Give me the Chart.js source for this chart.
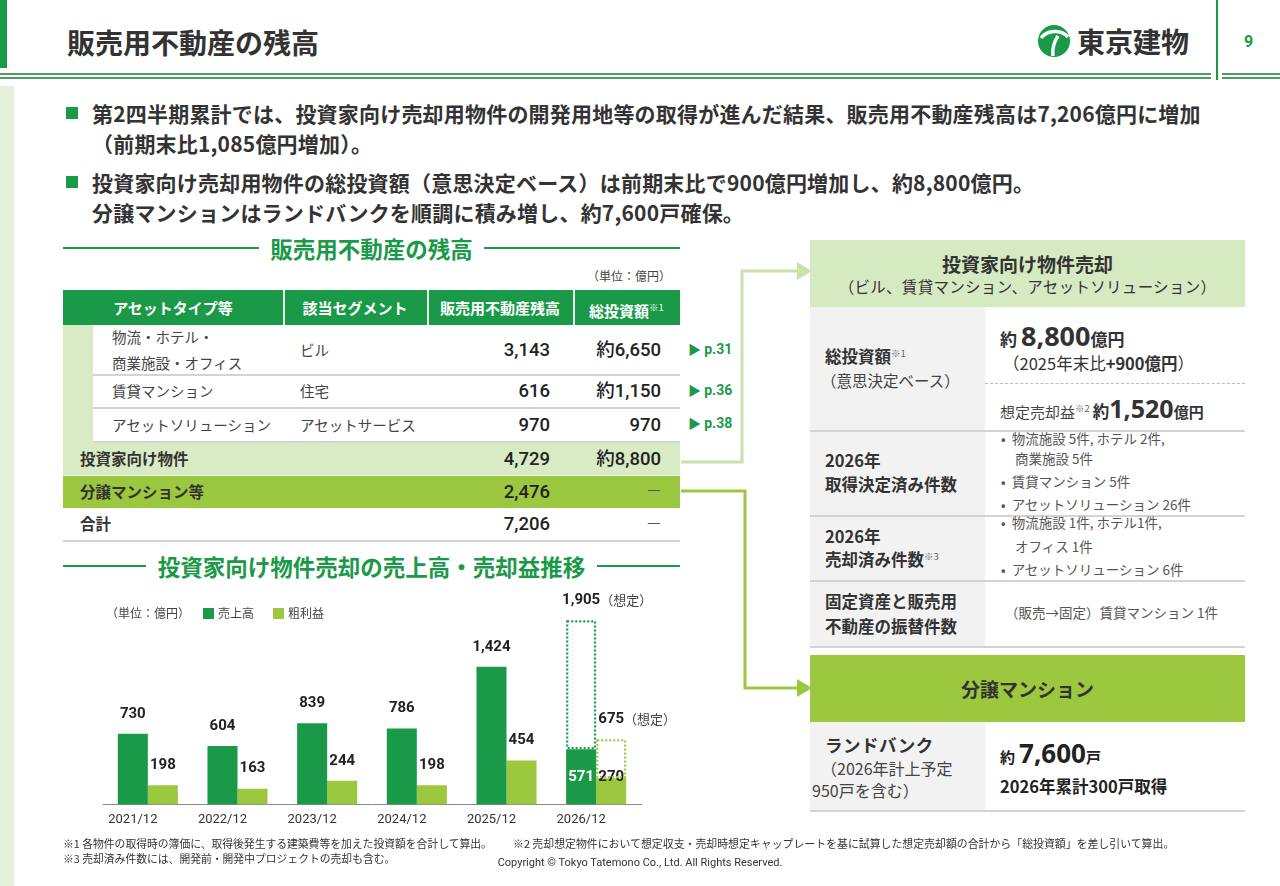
<!DOCTYPE html>
<html lang="ja"><head><meta charset="utf-8">
<script src="https://cdn.jsdelivr.net/npm/chart.js@4.4.1/dist/chart.umd.min.js"></script>
<style>
html,body{margin:0;padding:0;background:#fff;}
body{width:1280px;height:886px;position:relative;overflow:hidden;font-family:"Noto Sans CJK JP","Noto Sans",sans-serif;color:#333;}
.a{position:absolute;}
.t{position:absolute;white-space:nowrap;line-height:1;}
.b{font-weight:700;}
.n{font-family:Roboto,"Noto Sans CJK JP",sans-serif;}
.g{color:#1a9a48;}
.hc{position:absolute;top:290px;height:35px;line-height:35px;color:#fff;font-weight:700;font-size:15px;text-align:center;white-space:nowrap;}
.sup{font-size:9.5px;vertical-align:6px;font-weight:400;color:#666;}
.r{position:absolute;white-space:nowrap;line-height:1;text-align:right;font-family:Roboto,"Noto Sans CJK JP",sans-serif;font-size:18.5px;font-weight:500;color:#222;}
.bl{font-size:13.5px;color:#555;}
.hline{position:absolute;height:2px;background:#d3d3d3;}
</style></head><body>

<svg class="a" style="left:0;top:0" width="1280" height="886">
  <polyline points="681,462 742,462 742,271 800,271" fill="none" stroke="#c9e2ab" stroke-width="3"/>
  <polygon points="797,262 812,271 797,280" fill="#c9e2ab"/>
  <polyline points="681,491 745,491 745,688 800,688" fill="none" stroke="#9bc83f" stroke-width="3"/>
  <polygon points="797,679 812,688 797,697" fill="#9bc83f"/>
  <circle cx="1054" cy="41" r="16" fill="#1a9a48"/>
  <path d="M1041,38 C1047,30 1061,29 1068,37" stroke="#fff" stroke-width="3.5" fill="none"/>
  <path d="M1058,36 C1054,42 1052,49 1053,56" stroke="#fff" stroke-width="3.5" fill="none"/>
</svg>

<!-- header -->
<div class="a" style="left:0;top:0;width:7px;height:68px;background:#1a9a48"></div>
<div class="t b" style="left:67px;top:28px;font-size:28px;color:#333">販売用不動産の残高</div>
<div class="t b" style="left:1077px;top:27px;font-size:28px;color:#333">東京建物</div>
<div class="a" style="left:1216px;top:0;width:1.5px;height:80px;background:#1a9a48"></div>
<div class="t b n g" style="left:1244px;top:34px;font-size:16px">9</div>
<div class="a" style="left:0;top:73px;width:1211px;height:2px;background:#4a9e62"></div>
<div class="a" style="left:0;top:77px;width:1211px;height:2px;background:#4a9e62"></div>
<div class="a" style="left:1222px;top:73px;width:58px;height:2px;background:#4a9e62"></div>
<div class="a" style="left:1222px;top:77px;width:58px;height:2px;background:#4a9e62"></div>
<div class="a" style="left:0;top:86px;width:14px;height:800px;background:#e4f0d8"></div>

<!-- bullets -->
<div class="a" style="left:66px;top:107px;width:12px;height:12px;background:#1a9a48"></div>
<div class="a" style="left:66px;top:176px;width:12px;height:12px;background:#1a9a48"></div>
<div class="t b" style="left:92px;top:102.5px;font-size:21px;letter-spacing:0.2px">第2四半期累計では、投資家向け売却用物件の開発用地等の取得が進んだ結果、販売用不動産残高は7,206億円に増加</div>
<div class="t b" style="left:92px;top:132.5px;font-size:21px;letter-spacing:0.2px">（前期末比1,085億円増加）。</div>
<div class="t b" style="left:92px;top:171.5px;font-size:21px;letter-spacing:0.2px">投資家向け売却用物件の総投資額（意思決定ベース）は前期末比で900億円増加し、約8,800億円。</div>
<div class="t b" style="left:92px;top:201.5px;font-size:21px;letter-spacing:0.2px">分譲マンションはランドバンクを順調に積み増し、約7,600戸確保。</div>

<!-- section heading 1 -->
<div class="a" style="left:63px;top:236px;width:617px;height:24px;display:flex;align-items:center">
  <div style="flex:1;height:2px;background:#1a9a48"></div>
  <div class="b g" style="font-size:22.5px;line-height:24px;margin:0 11px;white-space:nowrap">販売用不動産の残高</div>
  <div style="flex:1;height:2px;background:#1a9a48"></div>
</div>
<div class="t" style="left:587px;top:270px;font-size:12px;color:#444">（単位：億円）</div>

<!-- table -->
<div class="a" style="left:63px;top:290px;width:617px;height:35px;background:#1a9a48"></div>
<div class="a" style="left:283px;top:290px;width:1.5px;height:35px;background:#e8f3ea"></div>
<div class="a" style="left:427px;top:290px;width:1.5px;height:35px;background:#e8f3ea"></div>
<div class="a" style="left:573px;top:290px;width:1.5px;height:35px;background:#e8f3ea"></div>
<div class="hc" style="left:63px;width:220px">アセットタイプ等</div>
<div class="hc" style="left:283px;width:144px">該当セグメント</div>
<div class="hc" style="left:427px;width:146px">販売用不動産残高</div>
<div class="hc" style="left:573px;width:107px">総投資額<span class="sup" style="color:#fff">※1</span></div>

<div class="a" style="left:63px;top:325px;width:30px;height:118px;background:#d8ebc4"></div>
<div class="hline" style="left:93px;top:374px;width:587px"></div>
<div class="hline" style="left:93px;top:407px;width:587px"></div>
<div class="hline" style="left:93px;top:441px;width:587px"></div>
<div class="a" style="left:63px;top:443px;width:617px;height:32px;background:#d8ebc4"></div>
<div class="a" style="left:63px;top:475px;width:617px;height:1px;background:#eef5e6"></div>
<div class="a" style="left:63px;top:476px;width:617px;height:32px;background:#9bc83f"></div>
<div class="hline" style="left:63px;top:540px;width:617px"></div>

<div class="t" style="left:112px;top:330px;font-size:14.5px;color:#444">物流・ホテル・</div>
<div class="t" style="left:112px;top:356px;font-size:14.5px;color:#444">商業施設・オフィス</div>
<div class="t" style="left:300px;top:343px;font-size:14.5px;color:#444">ビル</div>
<div class="r" style="right:730px;top:341px">3,143</div>
<div class="r" style="right:619px;top:341px">約6,650</div>

<div class="t" style="left:112px;top:384px;font-size:14.5px;color:#444">賃貸マンション</div>
<div class="t" style="left:300px;top:384px;font-size:14.5px;color:#444">住宅</div>
<div class="r" style="right:730px;top:382px">616</div>
<div class="r" style="right:619px;top:382px">約1,150</div>

<div class="t" style="left:112px;top:418px;font-size:14.5px;color:#444">アセットソリューション</div>
<div class="t" style="left:300px;top:418px;font-size:14.5px;color:#444">アセットサービス</div>
<div class="r" style="right:730px;top:416px">970</div>
<div class="r" style="right:619px;top:416px">970</div>

<div class="t b" style="left:80px;top:451px;font-size:15.5px;color:#333">投資家向け物件</div>
<div class="r" style="right:730px;top:450px">4,729</div>
<div class="r" style="right:619px;top:450px">約8,800</div>

<div class="t b" style="left:80px;top:483.5px;font-size:15.5px;color:#333">分譲マンション等</div>
<div class="r" style="right:730px;top:482.5px">2,476</div>
<div class="r" style="right:619px;top:482px;font-weight:300;color:#555">—</div>

<div class="t b" style="left:80px;top:516px;font-size:15.5px;color:#333">合計</div>
<div class="r" style="right:730px;top:515px">7,206</div>
<div class="r" style="right:619px;top:515px;font-weight:300;color:#555">—</div>

<div class="t b g" style="left:688px;top:341px;font-size:14px"><span style="font-size:13px">▶</span> <span class="n">p.31</span></div>
<div class="t b g" style="left:688px;top:382px;font-size:14px"><span style="font-size:13px">▶</span> <span class="n">p.36</span></div>
<div class="t b g" style="left:688px;top:415px;font-size:14px"><span style="font-size:13px">▶</span> <span class="n">p.38</span></div>

<!-- section heading 2 -->
<div class="a" style="left:63px;top:554px;width:617px;height:24px;display:flex;align-items:center">
  <div style="flex:1;height:2px;background:#1a9a48"></div>
  <div class="b g" style="font-size:22.5px;line-height:24px;margin:0 12px;white-space:nowrap">投資家向け物件売却の売上高・売却益推移</div>
  <div style="flex:1;height:2px;background:#1a9a48"></div>
</div>

<!-- chart -->
<canvas id="c" width="617" height="256" style="position:absolute;left:63px;top:585px"></canvas>
<div class="t" style="left:106px;top:607px;font-size:12px;color:#444">（単位：億円）</div>
<div class="a" style="left:203px;top:608px;width:11px;height:11px;background:#1a9a48"></div>
<div class="t" style="left:218px;top:607px;font-size:12px;color:#444">売上高</div>
<div class="a" style="left:273px;top:608px;width:11px;height:11px;background:#9bc83f"></div>
<div class="t" style="left:288px;top:607px;font-size:12px;color:#444">粗利益</div>

<!-- right panel -->
<div class="a" style="left:810px;top:240px;width:435px;height:67px;background:#d6eac2"></div>
<div class="t b" style="left:810px;width:435px;text-align:center;top:253.5px;font-size:19px;color:#333">投資家向け物件売却</div>
<div class="t" style="left:810px;width:435px;text-align:center;top:279px;font-size:15.5px;letter-spacing:0.3px;color:#333">（ビル、賃貸マンション、アセットソリューション）</div>

<div class="a" style="left:810px;top:307px;width:175px;height:123px;background:#f2f2f2"></div>
<div class="a" style="left:810px;top:432px;width:175px;height:83px;background:#f2f2f2"></div>
<div class="a" style="left:810px;top:517px;width:175px;height:63px;background:#f2f2f2"></div>
<div class="a" style="left:810px;top:582px;width:175px;height:64px;background:#f2f2f2"></div>
<div class="hline" style="left:810px;top:430px;width:435px"></div>
<div class="hline" style="left:810px;top:515px;width:435px"></div>
<div class="hline" style="left:810px;top:580px;width:435px"></div>
<div class="hline" style="left:810px;top:646px;width:435px"></div>
<div class="a" style="left:985px;top:383px;width:260px;height:0;border-top:1.5px dashed #bdbdbd"></div>

<div class="t b" style="left:825px;top:347.5px;font-size:16.5px">総投資額<span class="sup">※1</span></div>
<div class="t" style="left:821px;top:372.5px;font-size:15.5px;color:#444">（意思決定ベース）</div>
<div class="t b" style="left:1000px;top:322px;height:28px;font-size:17px;display:flex;align-items:baseline;line-height:28px"><span>約</span><span style="font-family:'Noto Sans',sans-serif;font-size:27px;line-height:28px;margin-left:4px">8,800</span><span>億円</span></div>
<div class="t" style="left:1003px;top:355px;font-size:16.5px;color:#333">（2025年末比<b>+900億円</b>）</div>
<div class="t" style="left:1000px;top:396px;font-size:15px;color:#444;display:flex;align-items:baseline"><span>想定売却益</span><span class="sup" style="vertical-align:0;position:relative;top:-6px">※2</span><b style="font-size:16.5px;margin-left:3px;color:#333">約</b><b style="font-family:'Noto Sans',sans-serif;font-size:25px;color:#333">1,520</b><b style="font-size:15px;color:#333">億円</b></div>

<div class="t b" style="left:825px;top:451.5px;font-size:16.5px">2026年</div>
<div class="t b" style="left:825px;top:475.5px;font-size:16.5px">取得決定済み件数</div>
<div class="t bl" style="left:1001px;top:432px">•&nbsp; 物流施設 5件, ホテル 2件,</div>
<div class="t bl" style="left:1015px;top:452px">商業施設 5件</div>
<div class="t bl" style="left:1001px;top:475px">•&nbsp; 賃貸マンション 5件</div>
<div class="t bl" style="left:1001px;top:498px">•&nbsp; アセットソリューション 26件</div>

<div class="t b" style="left:825px;top:527.5px;font-size:16.5px">2026年</div>
<div class="t b" style="left:825px;top:550.5px;font-size:16.5px">売却済み件数<span class="sup">※3</span></div>
<div class="t bl" style="left:1001px;top:516px">•&nbsp; 物流施設 1件, ホテル1件,</div>
<div class="t bl" style="left:1015px;top:540px">オフィス 1件</div>
<div class="t bl" style="left:1001px;top:563px">•&nbsp; アセットソリューション 6件</div>

<div class="t b" style="left:825px;top:592.5px;font-size:16.5px">固定資産と販売用</div>
<div class="t b" style="left:825px;top:617.5px;font-size:16.5px">不動産の振替件数</div>
<div class="t" style="left:1005px;top:606px;font-size:13.5px;color:#555">（販売→固定）賃貸マンション 1件</div>

<div class="a" style="left:810px;top:655px;width:435px;height:67px;background:#9bc83f"></div>
<div class="t b" style="left:810px;width:435px;text-align:center;top:678.5px;font-size:19px;color:#333">分譲マンション</div>
<div class="a" style="left:810px;top:722px;width:175px;height:88px;background:#f2f2f2"></div>
<div class="hline" style="left:810px;top:810px;width:435px"></div>
<div class="t b" style="left:825px;top:736px;font-size:17.5px;letter-spacing:0.5px">ランドバンク</div>
<div class="t" style="left:821px;top:760px;font-size:16px;color:#444">（2026年計上予定</div>
<div class="t" style="left:812px;top:782px;font-size:16px;color:#444">950戸を含む）</div>
<div class="t b" style="left:1000px;top:740px;font-size:15px;display:flex;align-items:baseline;color:#222"><span>約</span><span style="font-family:'Noto Sans',sans-serif;font-size:26px;margin-left:4px">7,600</span><span>戸</span></div>
<div class="t b" style="left:1000px;top:777.5px;font-size:16.5px;color:#222">2026年累計300戸取得</div>

<!-- footnotes -->
<div class="t" style="left:63px;top:838px;font-size:10.8px;color:#333">※1 各物件の取得時の簿価に、取得後発生する建築費等を加えた投資額を合計して算出。</div>
<div class="t" style="left:513px;top:838px;font-size:10.9px;color:#333">※2 売却想定物件において想定収支・売却時想定キャップレートを基に試算した想定売却額の合計から「総投資額」を差し引いて算出。</div>
<div class="t" style="left:63px;top:853px;font-size:10.8px;color:#333">※3 売却済み件数には、開発前・開発中プロジェクトの売却も含む。</div>
<div class="t" style="left:440px;width:400px;text-align:center;top:856.5px;font-size:11px;color:#333;font-family:Roboto,sans-serif">Copyright © Tokyo Tatemono Co., Ltd. All Rights Reserved.</div>

<script>
// ---- chart data ----
const years = ['2021/12', '2022/12', '2023/12', '2024/12', '2025/12', '2026/12'];
const sales = [730, 604, 839, 786, 1424, 571];
const grossProfit = [198, 163, 244, 198, 454, 270];
const salesForecast = [null, null, null, null, null, 1905];
const profitForecast = [null, null, null, null, null, 675];
const forecastSuffix = '（想定）';

const DARK = '#1a9a48';
const LIME = '#9bc83f';

const fmt = v => v.toLocaleString('en-US');

const labelPlugin = {
  id: 'valueLabels',
  afterDatasetsDraw(chart) {
    const ctx = chart.ctx;
    ctx.save();
    chart.data.datasets.forEach((ds, di) => {
      const meta = chart.getDatasetMeta(di);
      meta.data.forEach((bar, i) => {
        const raw = ds.data[i];
        if (raw == null) return;
        if (ds.dotted) {
          const w = bar.width;
          ctx.save();
          ctx.setLineDash([2, 2]);
          ctx.lineWidth = 2.2;
          ctx.strokeStyle = ds.dotted;
          ctx.strokeRect(bar.x - w / 2 + 1.1, bar.y + 1.1, w - 2.2, bar.base - bar.y - 2.2);
          ctx.restore();
          const txt = fmt(raw[1]);
          ctx.font = 'bold 15px Roboto';
          ctx.fillStyle = '#222';
          ctx.textAlign = 'center';
          ctx.textBaseline = 'middle';
          const tw = ctx.measureText(txt).width;
          ctx.fillText(txt, bar.x, bar.y - 20);
          ctx.font = '13px "Noto Sans CJK JP"';
          ctx.fillStyle = '#444';
          ctx.textAlign = 'left';
          ctx.fillText(forecastSuffix, bar.x + tw / 2, bar.y - 20);
        } else {
          const hasForecast = (ds.stack === 's' ? salesForecast[i] : profitForecast[i]) != null;
          ctx.font = 'bold 15px Roboto';
          ctx.textAlign = 'center';
          ctx.textBaseline = 'middle';
          if (hasForecast) {
            ctx.fillStyle = ds.stack === 's' ? '#fff' : '#222';
            ctx.fillText(fmt(raw), bar.x, bar.base - 27);
          } else {
            ctx.fillStyle = '#222';
            ctx.fillText(fmt(raw), bar.x, bar.y - 20);
          }
        }
      });
    });
    ctx.restore();
  }
};

new Chart(document.getElementById('c'), {
  type: 'bar',
  data: {
    labels: years,
    datasets: [
      { label: '売上高', data: sales, backgroundColor: DARK, stack: 's' },
      { label: '粗利益', data: grossProfit, backgroundColor: LIME, stack: 'p' },
      { label: '売上高（想定）', data: salesForecast.map((v, i) => v == null ? null : [sales[i], v]),
        backgroundColor: 'rgba(0,0,0,0)', stack: 's', dotted: DARK },
      { label: '粗利益（想定）', data: profitForecast.map((v, i) => v == null ? null : [grossProfit[i], v]),
        backgroundColor: 'rgba(0,0,0,0)', stack: 'p', dotted: LIME }
    ]
  },
  options: {
    responsive: false,
    animation: false,
    layout: { padding: { left: 40, right: 39, top: 0, bottom: 5 } },
    datasets: { bar: { categoryPercentage: 0.67, barPercentage: 1.0 } },
    plugins: { legend: { display: false }, tooltip: { enabled: false } },
    scales: {
      x: {
        grid: { display: false, drawTicks: false },
        border: { display: true, color: '#8a8a8a', width: 1 },
        ticks: { font: { family: 'Roboto', size: 13 }, color: '#333', padding: 8, labelOffset: -15 }
      },
      y: { display: false, min: 0, max: 2270, stacked: false }
    }
  },
  plugins: [labelPlugin]
});
</script>
</body></html>
